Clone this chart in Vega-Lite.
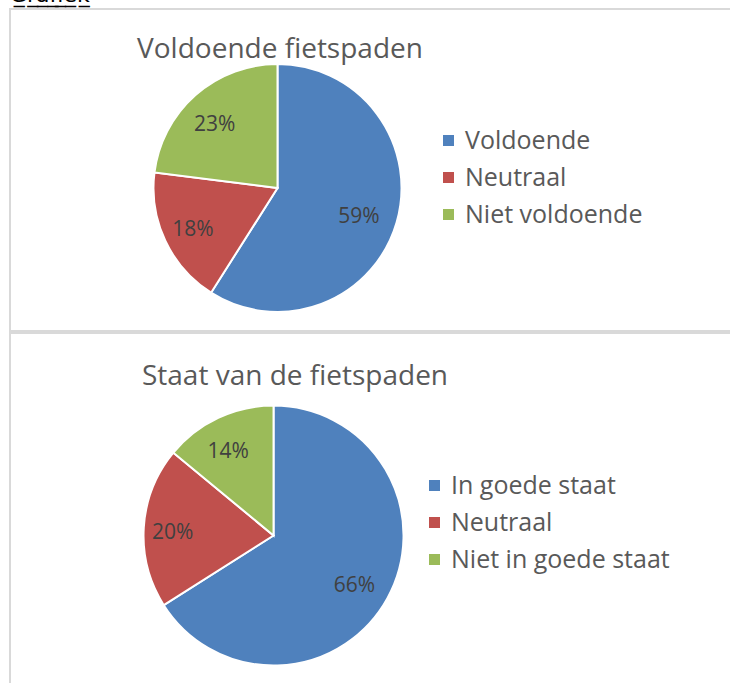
{
  "$schema": "https://vega.github.io/schema/vega-lite/v6.json",
  "background": "white",
  "padding": {"left": 9, "top": -16, "right": -3, "bottom": -3},
  "title": {"text": "G̲r̲a̲f̲i̲e̲k̲", "anchor": "start", "font": "DejaVu Sans", "fontSize": 22, "fontWeight": "normal", "color": "#000000", "offset": 1, "frame": "group"},
  "spacing": 0,
  "resolve": {"scale": {"color": "independent"}, "legend": {"color": "independent"}},
  "config": {
    "view": {"stroke": "#d9d9d9", "strokeWidth": 2},
    "font": "Open Sans",
    "legend": {"title": null, "symbolType": "square", "symbolSize": 121, "symbolStrokeWidth": 0, "labelFontSize": 25, "labelColor": "#595959", "labelFont": "Open Sans", "labelLimit": 400, "rowPadding": 11, "padding": 0, "orient": "none"}
  },
  "vconcat": [
    {
      "width": 722,
      "height": 322,
      "title": {"text": "Voldoende fietspaden", "anchor": "middle", "frame": "group", "dx": -91, "offset": -55, "fontSize": 28, "fontWeight": "normal", "color": "#595959", "font": "Open Sans"},
      "data": {"values": [
        {"categorie": "Voldoende", "aandeel": 0.59, "volgorde": 1},
        {"categorie": "Neutraal", "aandeel": 0.18, "volgorde": 2},
        {"categorie": "Niet voldoende", "aandeel": 0.23, "volgorde": 3}
      ]},
      "encoding": {
        "theta": {"field": "aandeel", "type": "quantitative", "stack": true},
        "order": {"field": "volgorde", "type": "quantitative"},
        "color": {"field": "categorie", "type": "nominal",
          "scale": {"domain": ["Voldoende", "Neutraal", "Niet voldoende"], "range": ["#4F81BD", "#C0504D", "#9BBB59"]},
          "legend": {"legendX": 426, "legendY": 119, "labelOffset": 4}},
        "x": {"datum": 0.3705, "type": "quantitative", "scale": {"domain": [0, 1], "nice": false, "zero": false}, "axis": null},
        "y": {"datum": 0.4441, "type": "quantitative", "scale": {"domain": [0, 1], "nice": false, "zero": false}, "axis": null}
      },
      "layer": [
        {"mark": {"type": "arc", "outerRadius": 124, "stroke": "white", "strokeWidth": 2}},
        {"mark": {"type": "text", "radius": 89, "fontSize": 21, "font": "Open Sans", "dx": -4, "dy": 4},
         "encoding": {"text": {"field": "aandeel", "type": "quantitative", "format": ".0%"}, "color": {"value": "#404040"}}}
      ]
    },
    {
      "width": 722,
      "height": 353,
      "title": {"text": "Staat van de fietspaden", "anchor": "middle", "frame": "group", "dx": -76, "offset": -58, "fontSize": 28, "fontWeight": "normal", "color": "#595959", "font": "Open Sans"},
      "data": {"values": [
        {"categorie": "In goede staat", "aandeel": 0.66, "volgorde": 1},
        {"categorie": "Neutraal", "aandeel": 0.20, "volgorde": 2},
        {"categorie": "Niet in goede staat", "aandeel": 0.14, "volgorde": 3}
      ]},
      "encoding": {
        "theta": {"field": "aandeel", "type": "quantitative", "stack": true},
        "order": {"field": "volgorde", "type": "quantitative"},
        "color": {"field": "categorie", "type": "nominal",
          "scale": {"domain": ["In goede staat", "Neutraal", "Niet in goede staat"], "range": ["#4F81BD", "#C0504D", "#9BBB59"]},
          "legend": {"legendX": 412, "legendY": 140, "labelOffset": 4}},
        "x": {"datum": 0.365, "type": "quantitative", "scale": {"domain": [0, 1], "nice": false, "zero": false}, "axis": null},
        "y": {"datum": 0.4263, "type": "quantitative", "scale": {"domain": [0, 1], "nice": false, "zero": false}, "axis": null}
      },
      "layer": [
        {"mark": {"type": "arc", "outerRadius": 130, "stroke": "white", "strokeWidth": 2}},
        {"mark": {"type": "text", "radius": 97, "fontSize": 21, "font": "Open Sans", "dx": -4, "dy": 4},
         "encoding": {"text": {"field": "aandeel", "type": "quantitative", "format": ".0%"}, "color": {"value": "#404040"}}}
      ]
    }
  ]
}
